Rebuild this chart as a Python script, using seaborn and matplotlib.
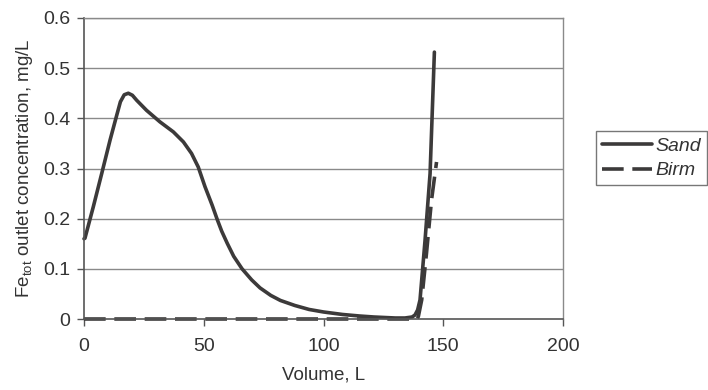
import matplotlib
matplotlib.use("Agg")
import matplotlib.pyplot as plt
import seaborn as sns
import pandas as pd

sns.set_style("white")
plt.rcParams['font.family'] = ['Liberation Sans', 'DejaVu Sans']
plt.rcParams['mathtext.fontset'] = 'custom'
plt.rcParams['mathtext.rm'] = 'Liberation Sans'
plt.rcParams['mathtext.it'] = 'Liberation Sans:italic'

# Data
sand_volume = [0, 0.4, 3.9, 7.4, 10.9, 13.6, 15.2, 16.8, 18.5, 20.2, 22, 26.1, 31.7, 37.3,
               41.5, 44.9, 47.7, 50.5, 53.5, 55.5, 57.5, 59.8, 62.5, 66, 70, 73.5, 78, 82,
               88, 94, 100, 108, 115, 121, 130, 134, 137, 138.2, 139.3, 140.3, 142.4,
               144.5, 146.3]
sand_conc = [0.16, 0.161, 0.224, 0.29, 0.357, 0.405, 0.433, 0.447, 0.45, 0.446, 0.436, 0.416,
             0.393, 0.373, 0.353, 0.33, 0.303, 0.264, 0.227, 0.2, 0.175, 0.151, 0.125, 0.1,
             0.078, 0.062, 0.047, 0.037, 0.027, 0.019, 0.014, 0.009, 0.006, 0.004, 0.002,
             0.002, 0.004, 0.008, 0.018, 0.038, 0.157, 0.29, 0.532]
birm_volume = [0, 50, 100, 139.0, 139.6, 141, 143, 145.1, 147.2]
birm_conc = [0, 0, 0, 0, 0.005, 0.038, 0.131, 0.237, 0.313]

series_names = ["Sand", "Birm"]
x_ticks = [0, 50, 100, 150, 200]
y_ticks = [0, 0.1, 0.2, 0.3, 0.4, 0.5, 0.6]
y_tick_labels = ["0", "0.1", "0.2", "0.3", "0.4", "0.5", "0.6"]

df = pd.concat([
    pd.DataFrame({"Volume": sand_volume, "Conc": sand_conc, "Filter": series_names[0]}),
    pd.DataFrame({"Volume": birm_volume, "Conc": birm_conc, "Filter": series_names[1]}),
])

fig = plt.figure(figsize=(7.08, 3.90), dpi=100)
ax = fig.add_axes([84/708, 1-319/390, (563-84)/708, (319-18)/390])

line_col = "#3c3a3a"
for yv in y_ticks[1:]:
    ax.axhline(yv, color="#8a8a8a", lw=1.0, zorder=0)

sns.lineplot(data=df[df.Filter == "Sand"], x="Volume", y="Conc", ax=ax, color=line_col,
             lw=2.6, label="Sand", sort=False, estimator=None)
sns.lineplot(data=df[df.Filter == "Birm"], x="Volume", y="Conc", ax=ax, color=line_col,
             lw=2.6, label="Birm", sort=False, estimator=None)
ax.lines[-1].set_dashes([6, 2.4])
for ln in ax.lines[-2:]:
    ln.set_clip_on(False)
    ln.set_solid_joinstyle("round")

ax.set_xlim(0, 200)
ax.set_ylim(0, 0.6)
ax.set_xticks(x_ticks)
ax.set_yticks(y_ticks)
ax.set_yticklabels(y_tick_labels)
ax.tick_params(axis="both", direction="out", length=5, width=1, colors="#555555",
               labelcolor="#333333", labelsize=14, pad=5, left=True, bottom=True)
ax.tick_params(axis="x", pad=9)

for s in ["top", "right"]:
    ax.spines[s].set_color("#8a8a8a")
    ax.spines[s].set_linewidth(1.0)
for s in ["left", "bottom"]:
    ax.spines[s].set_color("#555555")
    ax.spines[s].set_linewidth(1.2)

ax.set_xlabel("Volume, L", fontsize=13.5, color="#333333", labelpad=8)
ax.set_ylabel(r"Fe$_{\mathrm{tot}}$ outlet concentration, mg/L", fontsize=13.5,
              color="#333333", labelpad=6)

handles, labels = ax.get_legend_handles_labels()
leg = ax.legend(handles, labels, loc="upper left", bbox_to_anchor=(1.069, 0.623),
                frameon=True, fancybox=False, edgecolor="#555555", handlelength=2.6,
                handletextpad=0.15, borderpad=0.3, labelspacing=0.35,
                prop={"style": "italic", "size": 14, "family": "Liberation Sans"},
                borderaxespad=0)
leg.get_frame().set_linewidth(1.0)
for t in leg.get_texts():
    t.set_color("#333333")

fig.savefig("out.png", dpi=100, facecolor="white")
